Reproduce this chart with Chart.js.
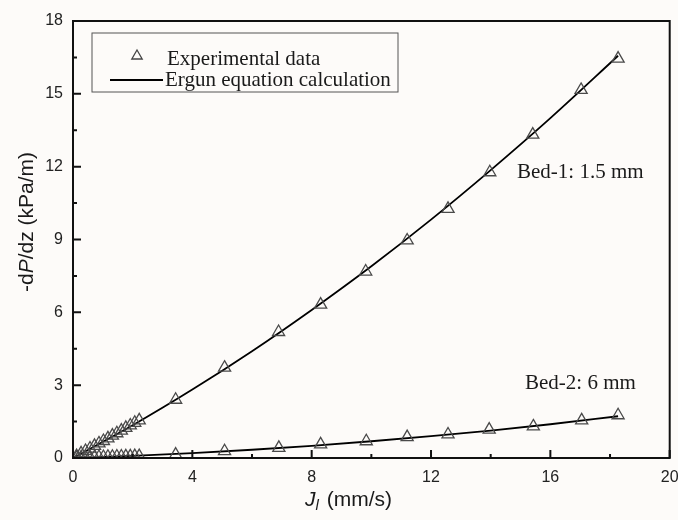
<!DOCTYPE html>
<html>
<head>
<meta charset="utf-8">
<script src="https://cdn.jsdelivr.net/npm/chart.js@4.4.1/dist/chart.umd.min.js"></script>
<style>
  html, body { margin: 0; padding: 0; background: #fdfbf9; }
</style>
</head>
<body>
<canvas id="pressureChart" width="678" height="520"></canvas>
<script>
// Bed-1 (1.5 mm) measured points
const bed1X = [0.12, 0.27, 0.42, 0.57, 0.72, 0.87, 1.02, 1.17, 1.32, 1.47, 1.62, 1.77, 1.92, 2.07, 2.22,
               3.44, 5.08, 6.89, 8.30, 9.81, 11.20, 12.57, 13.97, 15.41, 17.03, 18.27];
const bed1Y = [0.08, 0.19, 0.29, 0.39, 0.50, 0.60, 0.70, 0.81, 0.92, 1.02, 1.13, 1.24, 1.34, 1.45, 1.55,
               2.40, 3.72, 5.19, 6.32, 7.68, 8.96, 10.26, 11.77, 13.32, 15.16, 16.45];

// Bed-2 (6 mm) measured points
const bed2X = [0.12, 0.27, 0.42, 0.57, 0.72, 0.87, 1.02, 1.17, 1.32, 1.47, 1.62, 1.77, 1.92, 2.07, 2.22,
               3.44, 5.08, 6.90, 8.30, 9.83, 11.20, 12.57, 13.95, 15.43, 17.05, 18.27];
const bed2Y = [0.01, 0.02, 0.02, 0.03, 0.03, 0.04, 0.04, 0.05, 0.05, 0.06, 0.06, 0.07, 0.07, 0.08, 0.08,
               0.14, 0.28, 0.42, 0.56, 0.69, 0.86, 0.97, 1.17, 1.30, 1.55, 1.76];

// Ergun equation curves
const ergunX = [0, 2, 4, 6, 8, 10, 12, 14, 16, 18.27];
const ergun1Y = [0, 1.35, 2.82, 4.40, 6.10, 7.90, 9.82, 11.86, 14.00, 16.57];
const ergun2Y = [0, 0.09, 0.20, 0.34, 0.50, 0.69, 0.90, 1.13, 1.39, 1.72];

// axis ticks
const xMajor = [0, 4, 8, 12, 16, 20];
const xMinor = [2, 6, 10, 14, 18];
const yMajor = [0, 3, 6, 9, 12, 15, 18];
const yMinor = [1.5, 4.5, 7.5, 10.5, 13.5, 16.5];

const toPoints = (xs, ys) => xs.map((x, i) => ({ x: x, y: ys[i] }));

const serif = "'Liberation Serif', 'Times New Roman', serif";
const sans = "'Liberation Sans', Arial, sans-serif";

// frame, inward ticks, axis titles, legend and bed labels
const decorations = {
    id: "decorations",
    afterDraw(chart) {
        const { ctx, chartArea: a, scales } = chart;
        ctx.save();
        ctx.strokeStyle = "#111";
        ctx.lineWidth = 2;
        ctx.strokeRect(a.left, a.top, a.right - a.left, a.bottom - a.top);

        ctx.beginPath();
        xMajor.forEach(v => { const p = scales.x.getPixelForValue(v); ctx.moveTo(p, a.bottom); ctx.lineTo(p, a.bottom - 8); });
        xMinor.forEach(v => { const p = scales.x.getPixelForValue(v); ctx.moveTo(p, a.bottom); ctx.lineTo(p, a.bottom - 4); });
        yMajor.forEach(v => { const p = scales.y.getPixelForValue(v); ctx.moveTo(a.left, p); ctx.lineTo(a.left + 8, p); });
        yMinor.forEach(v => { const p = scales.y.getPixelForValue(v); ctx.moveTo(a.left, p); ctx.lineTo(a.left + 4, p); });
        ctx.stroke();

        // y title: -dP/dz (kPa/m)
        ctx.fillStyle = "#1a1a1a";
        ctx.textBaseline = "middle";
        ctx.save();
        ctx.translate(27, 222);
        ctx.rotate(-Math.PI / 2);
        const parts = [["-d", ""], ["P", "italic "], ["/dz (kPa/m)", ""]];
        let total = 0;
        parts.forEach(p => { ctx.font = p[1] + "21px " + sans; total += ctx.measureText(p[0]).width; });
        let cx = -total / 2;
        parts.forEach(p => { ctx.font = p[1] + "21px " + sans; ctx.textAlign = "left"; ctx.fillText(p[0], cx, 0); cx += ctx.measureText(p[0]).width; });
        ctx.restore();

        // x title: J_l (mm/s)
        ctx.textAlign = "left";
        ctx.font = "italic 21px " + sans;
        ctx.fillText("J", 305, 500);
        let jx = 305 + ctx.measureText("J").width;
        ctx.font = "italic 15px " + sans;
        ctx.fillText("l", jx, 506);
        jx += ctx.measureText("l").width + 2;
        ctx.font = "21px " + sans;
        ctx.fillText(" (mm/s)", jx, 500);

        // legend box
        ctx.lineWidth = 1;
        ctx.strokeStyle = "#555";
        ctx.strokeRect(92, 33, 306, 59);
        ctx.strokeStyle = "#444";
        ctx.fillStyle = "rgba(0,0,0,0)";
        ctx.lineWidth = 1.3;
        Chart.helpers.drawPoint(ctx, { pointStyle: "triangle", radius: 6, borderWidth: 1.3 }, 137, 56);
        ctx.lineWidth = 1.8;
        ctx.strokeStyle = "#000";
        ctx.beginPath();
        ctx.moveTo(110, 80);
        ctx.lineTo(163, 80);
        ctx.stroke();
        ctx.font = "21px " + serif;
        ctx.fillStyle = "#1a1a1a";
        ctx.fillText("Experimental data", 167, 59);
        ctx.fillText("Ergun equation calculation", 165, 80);

        // bed labels
        ctx.fillText("Bed-1: 1.5 mm", 517, 172);
        ctx.fillText("Bed-2: 6 mm", 525, 383);
        ctx.restore();
    }
};

const pointStyle = {
    showLine: false,
    pointStyle: "triangle",
    pointRadius: 7,
    pointBorderWidth: 1.3,
    pointBorderColor: "#4a4a4a",
    pointBackgroundColor: "rgba(0,0,0,0)"
};
const lineStyle = {
    showLine: true,
    pointRadius: 0,
    borderColor: "#000",
    borderWidth: 1.8,
    cubicInterpolationMode: "monotone"
};

const ctx = document.getElementById("pressureChart").getContext("2d");
new Chart(ctx, {
    type: "scatter",
    data: {
        datasets: [
            Object.assign({ label: "Bed-1 experimental", data: toPoints(bed1X, bed1Y) }, pointStyle),
            Object.assign({ label: "Bed-2 experimental", data: toPoints(bed2X, bed2Y) }, pointStyle),
            Object.assign({ label: "Bed-1 Ergun", data: toPoints(ergunX, ergun1Y) }, lineStyle),
            Object.assign({ label: "Bed-2 Ergun", data: toPoints(ergunX, ergun2Y) }, lineStyle)
        ]
    },
    options: {
        responsive: false,
        animation: false,
        layout: { padding: { left: 0, right: 7, top: 21, bottom: 0 } },
        plugins: { legend: { display: false }, tooltip: { enabled: false } },
        scales: {
            x: {
                type: "linear", min: 0, max: 20,
                grid: { display: false, drawTicks: false },
                border: { display: false },
                ticks: { stepSize: 4, padding: 10, color: "#222", maxRotation: 0, font: { family: sans, size: 16 } },
                afterFit: s => { s.height = 62; s.paddingLeft = 0; s.paddingRight = 0; }
            },
            y: {
                min: 0, max: 18,
                grid: { display: false, drawTicks: false },
                border: { display: false },
                ticks: { stepSize: 3, padding: 10, color: "#222", font: { family: sans, size: 16 } },
                afterFit: s => { s.width = 73; s.paddingTop = 0; s.paddingBottom = 0; }
            }
        }
    },
    plugins: [decorations]
});
</script>
</body>
</html>
